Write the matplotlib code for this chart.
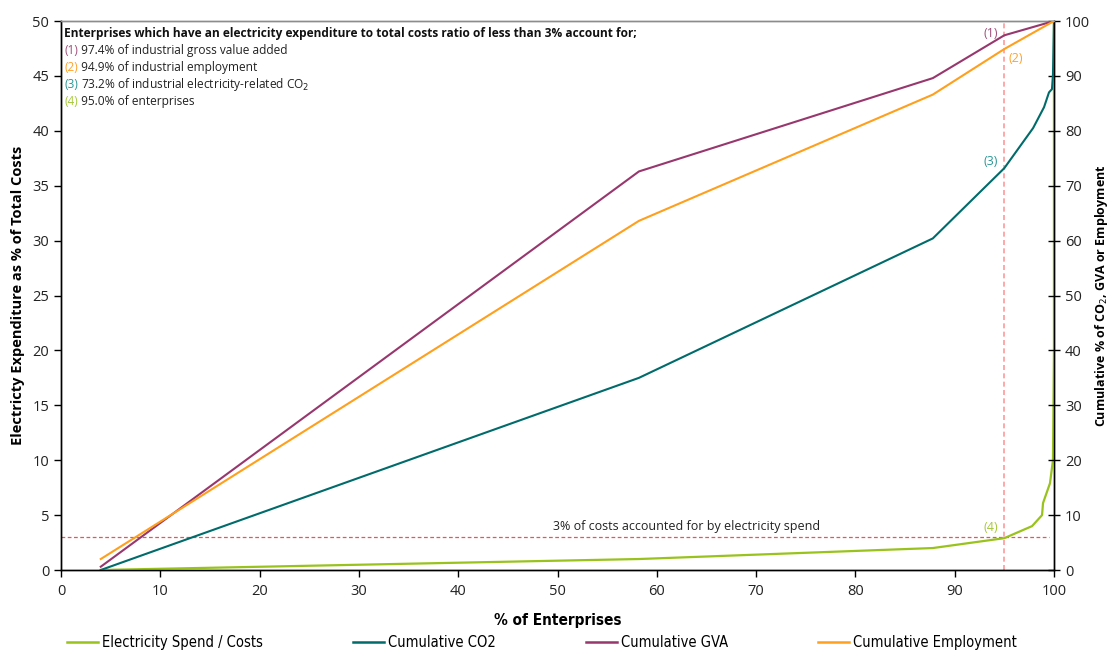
import matplotlib
matplotlib.use('Agg')
import matplotlib.pyplot as plt
from matplotlib.lines import Line2D

plt.rcParams['font.family'] = ['Open Sans', 'DejaVu Sans']

# ===== data =====
spend_x = [4.0, 58.2, 87.8, 95.0, 97.8, 98.8, 98.9, 99.6, 99.9, 100.0, 100.0]
spend_y = [0.0, 1.0, 2.0, 2.9, 4.0, 5.0, 6.1, 7.9, 10.0, 20.0, 50.0]

co2_x = [4.0, 58.2, 87.8, 95.0, 97.9, 99.0, 99.5, 99.8, 99.9, 100.0]
co2_y = [0.0, 35.0, 60.4, 73.2, 80.5, 84.3, 87.0, 87.6, 90.2, 100.0]

cum_x = [4.0, 58.2, 87.8, 95.0, 100.0]
gva_y = [0.6, 72.6, 89.6, 97.4, 100.0]
emp_y = [2.0, 63.6, 86.6, 94.9, 100.0]

threshold_cost = 3
threshold_ent = 95

notes = ['97.4% of industrial gross value added',
         '94.9% of industrial employment',
         '73.2% of industrial electricity-related CO$_2$',
         '95.0% of enterprises']

GREEN = '#99c31c'
TEAL = '#006b6b'
PURPLE = '#97376e'
ORANGE = '#ff9f1c'
NOTE_COLORS = ['#a0507a', '#ffa228', '#2a9696', '#a6c83a']
NARROW = {'family': 'DejaVu Sans', 'stretch': 'condensed'}

fig = plt.figure(figsize=(11.12, 6.53), dpi=100)
ax = fig.add_axes([0.0549, 0.1271, 0.8929, 0.8407])
ax2 = ax.twinx()

ax.plot(spend_x, spend_y, color=GREEN, lw=1.6, zorder=3)
ax2.plot(co2_x, co2_y, color=TEAL, lw=1.5, zorder=3)
ax2.plot(cum_x, gva_y, color=PURPLE, lw=1.5, zorder=3)
ax2.plot(cum_x, emp_y, color=ORANGE, lw=1.5, zorder=3)

# threshold lines
ax.axhline(threshold_cost, xmin=0, xmax=0.995, color='#f45050', lw=0.9,
           linestyle=(0, (3, 2)), zorder=2)
ax.axvline(threshold_ent, color='#ff9a9a', lw=1.2, linestyle=(0, (3, 2)),
           zorder=2)
ax.text(63, 3.35, '3% of costs accounted for by electricity spend',
        ha='center', va='bottom', fontsize=9, color='#222222')

# curve markers
ax.text(93.6, 48.9, '(1)', color=NOTE_COLORS[0], fontsize=9, ha='center', va='center')
ax.text(96.2, 46.6, '(2)', color=NOTE_COLORS[1], fontsize=9, ha='center', va='center')
ax.text(93.6, 37.2, '(3)', color=NOTE_COLORS[2], fontsize=9, ha='center', va='center')
ax.text(93.6, 3.9, '(4)', color=NOTE_COLORS[3], fontsize=9, ha='center', va='center')

# annotation block
ax.text(0.003, 0.977,
        'Enterprises which have an electricity expenditure to total costs ratio of less than 3% account for;',
        transform=ax.transAxes, fontsize=8.6, fontweight='bold', ha='left', va='center',
        color='#111111')
for i, note in enumerate(notes):
    yy = 0.947 - i * 0.031
    t = ax.text(0.003, yy, f'({i + 1})', transform=ax.transAxes, fontsize=8.6,
                color=NOTE_COLORS[i], ha='left', va='center')
    ax.annotate(' ' + note, xy=(1, 0.5), xycoords=t, fontsize=8.6,
                color='#222222', ha='left', va='center')

# axes
ax.set_xlim(0, 100)
ax.set_ylim(0, 50)
ax2.set_ylim(0, 100)
ax.set_xticks(range(0, 101, 10))
ax.set_yticks(range(0, 51, 5))
ax2.set_yticks(range(0, 101, 10))

for a in (ax, ax2):
    for s in a.spines.values():
        s.set_color('#000000')
        s.set_linewidth(1.0)
    a.spines['top'].set_color('#8c8c8c')
ax.tick_params(axis='both', direction='out', length=5, width=1, labelsize=10.5,
               colors='#000000', labelcolor='#222222')
ax.tick_params(axis='x', pad=5)
ax2.tick_params(axis='y', direction='inout', length=9, width=1, labelsize=10.5,
                labelcolor='#222222')

ax.set_xlabel('% of Enterprises', fontsize=11, fontweight='bold', labelpad=10,
              **NARROW)
ax.set_ylabel('Electricty Expenditure as % of Total Costs', fontsize=10.5,
              fontweight='bold', labelpad=5)
ax2.set_ylabel('Cumulative % of CO$_2$, GVA or Employment', fontsize=9,
               fontweight='bold', labelpad=2)

handles = [Line2D([], [], color=GREEN, lw=1.8),
           Line2D([], [], color=TEAL, lw=1.8),
           Line2D([], [], color=PURPLE, lw=1.8),
           Line2D([], [], color=ORANGE, lw=1.8)]
labels = ['Electricity Spend / Costs', 'Cumulative CO2', 'Cumulative GVA',
          'Cumulative Employment']
fig.legend(handles, labels, loc='lower left', ncol=4, mode='expand',
           bbox_to_anchor=(0.055, -0.005, 0.865, 0.04), frameon=False,
           handlelength=2.1, handletextpad=0.3, borderaxespad=0,
           prop={**NARROW, 'size': 10.5})

fig.savefig('out.png', dpi=100)
